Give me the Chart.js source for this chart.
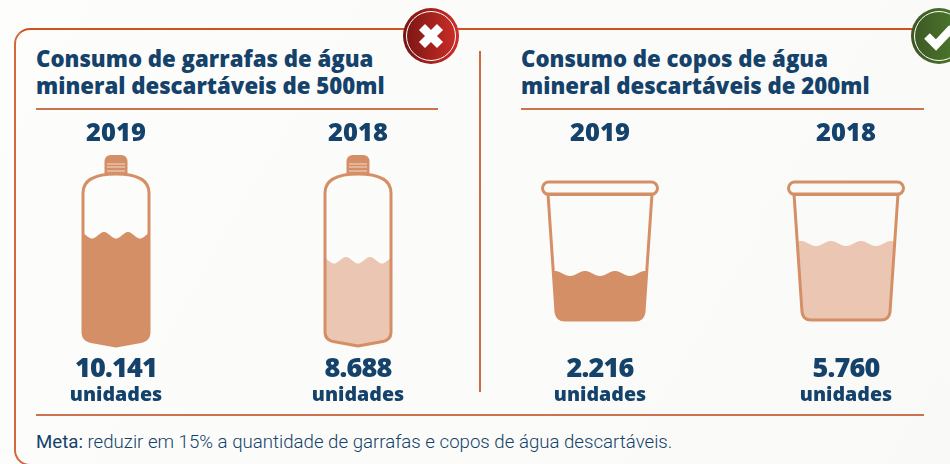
<!DOCTYPE html>
<html lang="pt-BR">
<head>
<meta charset="utf-8">
<title>Consumo de garrafas e copos</title>
<script src="https://cdn.jsdelivr.net/npm/chart.js@4"></script>
<style>
  html, body { margin: 0; padding: 0; }
  body { width: 950px; height: 464px; overflow: hidden; position: relative; background: linear-gradient(120deg, #fdfdfb, #f9faf7); font-family: "Open Sans", sans-serif; color: #14426b; }
  #panel { position: absolute; left: 14px; top: 28px; width: 1000px; height: 438px; box-sizing: border-box; border: 2px solid #d2693c; border-top-color: #d0521f; border-radius: 16px; }
  .rule { position: absolute; height: 2px; background: #cb7350; }
  #divider { position: absolute; left: 479px; top: 51px; width: 2px; height: 341px; background: #cd6a42; }
  .title { position: absolute; top: 46px; margin: 0; font-size: 22.2px; line-height: 26.5px; font-weight: 800; white-space: nowrap; }
  #meta { position: absolute; left: 36px; top: 431px; font-family: Roboto, sans-serif; font-size: 18.65px; font-weight: 300; white-space: nowrap; }
  #meta b { font-weight: 400; }
  canvas { position: absolute; top: 118px; }
  .badge { position: absolute; top: 8px; width: 56px; height: 56px; }
</style>
</head>
<body>
<div id="panel"></div>
<div id="divider"></div>
<h2 class="title" style="left:36px">Consumo de garrafas de água<br>mineral descartáveis de 500ml</h2>
<h2 class="title" style="left:521px">Consumo de copos de água<br>mineral descartáveis de 200ml</h2>
<div class="rule" style="left:36px;top:108px;width:402px"></div>
<div class="rule" style="left:521px;top:108px;width:403px"></div>
<div class="rule" style="left:36px;top:414px;width:888px"></div>
<div id="meta"><b>Meta:</b> reduzir em 15% a quantidade de garrafas e copos de água descartáveis.</div>
<canvas id="garrafas" width="484" height="292" style="left:-5px"></canvas>
<canvas id="copos" width="492" height="292" style="left:477px"></canvas>
<svg class="badge" style="left:403px" viewBox="0 0 56 56">
  <defs><linearGradient id="red"><stop offset="0" stop-color="#771514"/><stop offset="1" stop-color="#cf2f27"/></linearGradient></defs>
  <circle cx="28" cy="28" r="28" fill="url(#red)"/>
  <circle cx="28" cy="28" r="24.5" fill="none" stroke="#fff" stroke-width="1"/>
  <path d="M19 19L37 37M37 19L19 37" stroke="#fff" stroke-width="8.5" fill="none"/>
</svg>
<svg class="badge" style="left:911px" viewBox="0 0 56 56">
  <defs><linearGradient id="green"><stop offset="0" stop-color="#3d5625"/><stop offset="1" stop-color="#4f7f2b"/></linearGradient></defs>
  <circle cx="28" cy="28" r="28" fill="url(#green)"/>
  <circle cx="28" cy="28" r="24.5" fill="none" stroke="#fff" stroke-width="1"/>
  <path d="M16 28L25 37L41 20" stroke="#fff" stroke-width="8" fill="none"/>
</svg>
<script>
var anos = ['2019', '2018'];
var garrafas = [10141, 8688];
var copos = [2216, 5760];
var unidade = 'unidades';

var corEscura = '#d58f66';
var corClara = '#ebc7b3';
var corTexto = '#14426b';
var fonte = '"Open Sans", sans-serif';

function formata(v) {
  return String(v).replace(/\B(?=(\d{3})+$)/g, '.');
}

// garrafa, desenhada em volta do centro da barra
function caminhoGarrafa(p, x, b) {
  p.moveTo(x - 33, b - 154);
  p.bezierCurveTo(x - 33, b - 166, x - 24, b - 173, x, b - 173);
  p.bezierCurveTo(x + 24, b - 173, x + 33, b - 166, x + 33, b - 154);
  p.lineTo(x + 33, b - 15);
  p.quadraticCurveTo(x + 33, b - 6, x + 22, b - 5);
  p.lineTo(x, b - 1);
  p.lineTo(x - 22, b - 5);
  p.quadraticCurveTo(x - 33, b - 6, x - 33, b - 15);
  p.closePath();
}

function extrasGarrafa(ctx, x, b) {
  // tampa
  ctx.fillStyle = corEscura;
  ctx.beginPath();
  ctx.roundRect(x - 11.5, b - 192, 23, 20, [6, 6, 0, 0]);
  ctx.fill();
  ctx.strokeStyle = '#f2dccd';
  ctx.lineWidth = 1;
  [b - 183, b - 180, b - 176].forEach(function (y) {
    ctx.beginPath();
    ctx.moveTo(x - 9, y);
    ctx.lineTo(x + 9, y);
    ctx.stroke();
  });
}

function caminhoCopo(p, x, b) {
  p.moveTo(x - 52, b - 127);
  p.lineTo(x + 52, b - 127);
  p.lineTo(x + 44, b - 9);
  p.quadraticCurveTo(x + 43, b - 1, x + 35, b - 1);
  p.lineTo(x - 35, b - 1);
  p.quadraticCurveTo(x - 43, b - 1, x - 44, b - 9);
  p.closePath();
}

function extrasCopo(ctx, x, b) {
  // borda do copo
  ctx.strokeStyle = corEscura;
  ctx.lineWidth = 3;
  ctx.beginPath();
  ctx.roundRect(x - 57.5, b - 139, 115, 12.5, 6.25);
  ctx.stroke();
}

// recorta as barras no formato do recipiente, com a onda no topo
function pluginRecipiente(caminho, extras, periodo, amp) {
  return {
    id: 'recipiente',
    beforeDatasetsDraw: function (chart) {
      var ctx = chart.ctx;
      var b = chart.chartArea.bottom;
      var barras = chart.getDatasetMeta(0).data;
      var onda = new Path2D();
      var forma = new Path2D();
      barras.forEach(function (el) {
        onda.moveTo(el.x - 60, b + 2);
        for (var dx = -60; dx <= 60; dx++) {
          onda.lineTo(el.x + dx, el.y + amp * (1 + Math.cos(2 * Math.PI * dx / periodo)) / 2);
        }
        onda.lineTo(el.x + 60, b + 2);
        onda.closePath();
        caminho(forma, el.x, b);
      });
      ctx.save();
      ctx.clip(onda);
      ctx.clip(forma);
    },
    afterDatasetsDraw: function (chart) {
      var ctx = chart.ctx;
      var b = chart.chartArea.bottom;
      ctx.restore();
      chart.getDatasetMeta(0).data.forEach(function (el, i) {
        ctx.save();
        var contorno = new Path2D();
        caminho(contorno, el.x, b);
        ctx.strokeStyle = corEscura;
        ctx.lineWidth = 3;
        ctx.lineJoin = 'round';
        ctx.stroke(contorno);
        extras(ctx, el.x, b);
        // valor e unidade
        var valor = chart.data.datasets[0].data[i];
        ctx.textAlign = 'center';
        ctx.textBaseline = 'alphabetic';
        ctx.fillStyle = corTexto;
        ctx.font = '800 27px ' + fonte;
        ctx.letterSpacing = '-0.8px';
        ctx.fillText(formata(valor), el.x, 259);
        ctx.letterSpacing = '0px';
        ctx.font = '800 19.6px ' + fonte;
        ctx.fillText(unidade, el.x, 283);
        ctx.restore();
      });
    }
  };
}

function criaGrafico(id, valores, yMin, yMax, baixo, plugin) {
  return new Chart(document.getElementById(id).getContext('2d'), {
    type: 'bar',
    data: {
      labels: anos,
      datasets: [{
        data: valores,
        base: yMin,
        backgroundColor: [corEscura, corClara],
        barThickness: 130
      }]
    },
    options: {
      responsive: false,
      animation: false,
      layout: { padding: { left: 0, right: 0, top: 0, bottom: baixo } },
      plugins: { legend: { display: false }, tooltip: { enabled: false } },
      scales: {
        x: {
          position: 'top',
          grid: { display: false, drawTicks: false },
          border: { display: false },
          afterFit: function (s) { s.height = 32; },
          ticks: { color: corTexto, font: { family: fonte, size: 25.5, weight: '800' }, padding: 1, maxRotation: 0, autoSkip: false }
        },
        y: { display: false, min: yMin, max: yMax }
      }
    },
    plugins: [plugin]
  });
}

// os recipientes não seguem a mesma escala: cada par tem seu eixo
var g = criaGrafico('garrafas', garrafas, 3457, 14907, 63, pluginRecipiente(caminhoGarrafa, extrasGarrafa, 24, 6.5));
var c = criaGrafico('copos', copos, -3691, 16504, 89, pluginRecipiente(caminhoCopo, extrasCopo, 30, 5));
</script>
</body>
</html>
